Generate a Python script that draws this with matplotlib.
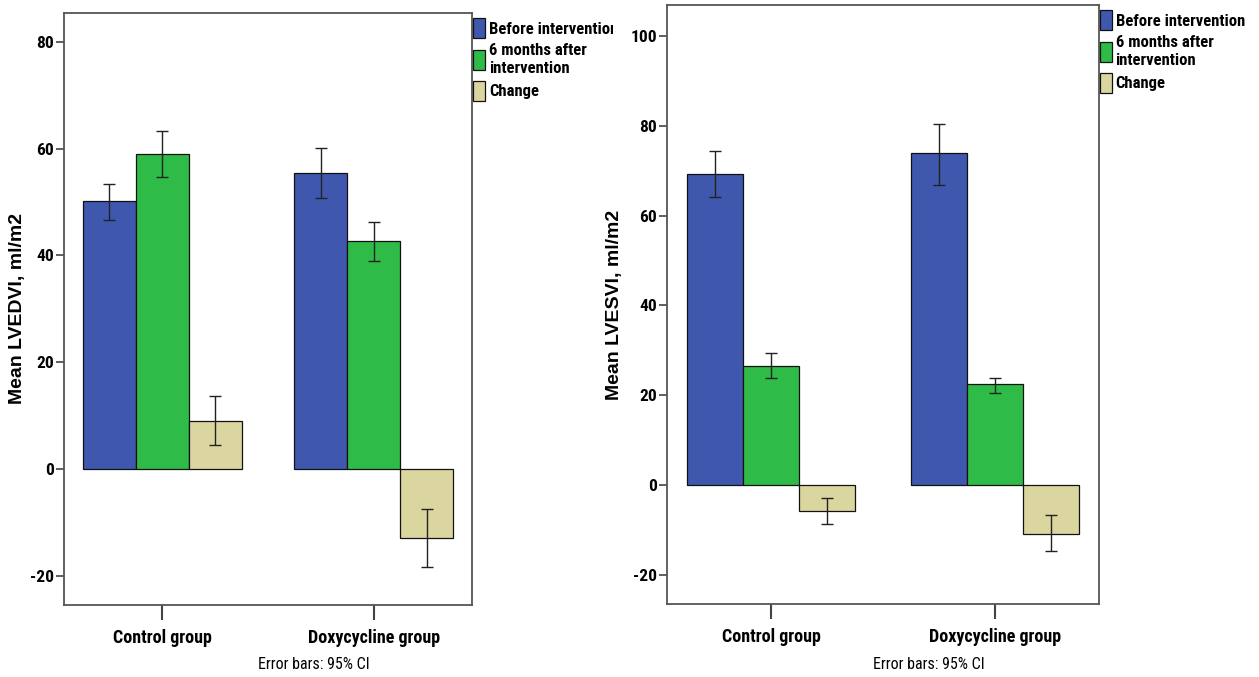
import numpy as np
import matplotlib
matplotlib.use("Agg")
import matplotlib.pyplot as plt
from matplotlib import font_manager
from matplotlib.transforms import Bbox

# pick a narrow bold face close to Arial Narrow
installed = {(f.name, f.weight) for f in font_manager.fontManager.ttflist}
narrow = "DejaVu Sans"
for cand in ["Liberation Sans Narrow", "Roboto Condensed", "PT Sans Narrow",
             "Archivo Narrow", "IBM Plex Sans Condensed", "Fira Sans Condensed"]:
    if (cand, 700) in installed or (cand, "bold") in installed:
        narrow = cand
        break
plt.rcParams['font.family'] = [narrow, 'DejaVu Sans']

groups = ["Control group", "Doxycycline group"]
series = ["Before intervention", "6 months after\nintervention", "Change"]
colors = ["#3f58ae", "#2fbb47", "#dbd69f"]

# LVEDVI (left panel): means and 95% CI bounds per series, per group
edv_mean = [[50.1, 55.5], [58.9, 42.6], [9.0, -13.0]]
edv_low = [[46.6, 50.8], [54.6, 39.0], [4.4, -18.4]]
edv_high = [[53.3, 60.2], [63.3, 46.3], [13.6, -7.6]]

# LVESVI (right panel)
esv_mean = [[69.3, 73.9], [26.5, 22.4], [-5.8, -10.8]]
esv_low = [[64.2, 66.9], [23.8, 20.6], [-8.6, -14.8]]
esv_high = [[74.4, 80.5], [29.3, 23.9], [-2.9, -6.7]]

fig = plt.figure(figsize=(12.59, 6.77), dpi=100)
W, H = 1259, 677


def panel(rect_px, means, lows, highs, ylim, yticks, ylabel, label_x, clip_x):
    x0, y0, x1, y1 = rect_px
    ax = fig.add_axes([x0 / W, 1 - y1 / H, (x1 - x0) / W, (y1 - y0) / H])
    x = np.arange(len(groups))
    width = 0.25
    handles = []
    for i in range(len(series)):
        m = np.array(means[i])
        err = [m - np.array(lows[i]), np.array(highs[i]) - m]
        b = ax.bar(x + (i - 1) * width, m, width, color=colors[i],
                   edgecolor="#111111", linewidth=0.9, label=series[i], zorder=2)
        ax.errorbar(x + (i - 1) * width, m, yerr=err, fmt="none",
                    ecolor="#222222", elinewidth=1.0, capsize=4.5,
                    capthick=1.0, zorder=3)
        handles.append(b)
    ax.set_xlim(-0.465, 1.465)
    ax.set_ylim(*ylim)
    ax.set_yticks(yticks)
    ax.set_yticklabels([str(t) for t in yticks], fontweight="bold", fontsize=12.5)
    ax.set_xticks(x)
    ax.set_xticklabels(groups, fontweight="bold", fontsize=13)
    ax.tick_params(axis="y", direction="out", length=6, width=1.2,
                   color="#444444", pad=1)
    ax.tick_params(axis="x", direction="out", length=11, width=1.5,
                   color="#444444", pad=6)
    for s in ax.spines.values():
        s.set_color("#555555")
        s.set_linewidth(1.3)
    ax.set_ylabel(ylabel, family="Liberation Sans", fontweight="bold",
                  fontsize=14)
    ax.yaxis.set_label_coords((label_x - x0) / (x1 - x0), 0.5)
    leg = ax.legend(handles=handles, loc="upper left",
                    bbox_to_anchor=(0.99, 1.0), borderaxespad=0,
                    borderpad=0.3, frameon=False,
                    handlelength=0.75, handleheight=1.5, handletextpad=0.2,
                    labelspacing=0.3, prop={"family": narrow, "weight": "bold", "size": 12})
    clip = Bbox.from_extents(0, 0, clip_x * fig.dpi / 100, fig.bbox.height)
    for t in leg.get_texts():
        t.set_clip_box(clip)
        t.set_clip_on(True)
    cx = (x0 + x1) / 2 + 46
    fig.text(cx / W, 1 - 657 / H, "Error bars: 95% CI", ha="center",
             va="top", fontsize=11.5, fontweight="normal")
    return ax


panel((64, 13, 472, 605), edv_mean, edv_low, edv_high, (-25.5, 85.4),
      [-20, 0, 20, 40, 60, 80], "Mean LVEDVI, ml/m2", 26, 613)
panel((667, 5, 1099, 604), esv_mean, esv_low, esv_high, (-26.5, 106.9),
      [-20, 0, 20, 40, 60, 80, 100], "Mean LVESVI, ml/m2", 623, W)

fig.savefig("out.png", dpi=100)
